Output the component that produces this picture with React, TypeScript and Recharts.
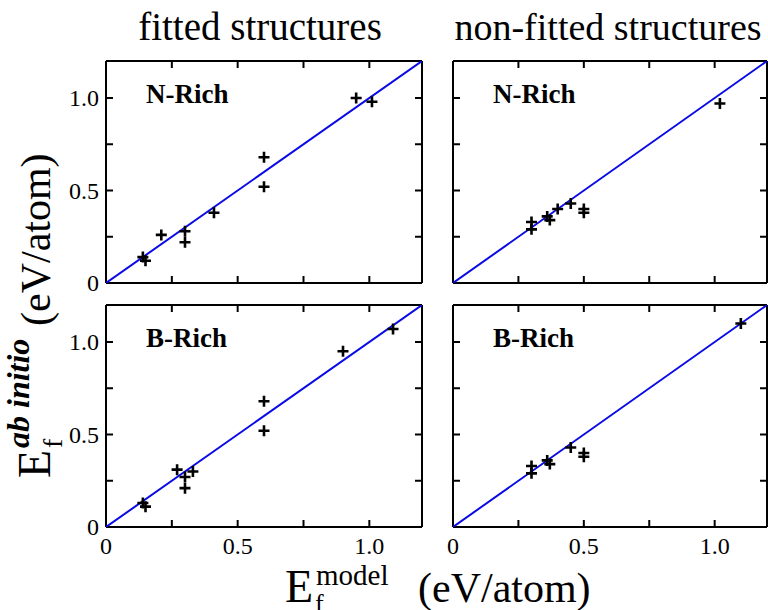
import { ScatterChart, Scatter, XAxis, YAxis } from 'recharts'

// values (eV/atom)
const fittedNModel = [0.14, 0.15, 0.21, 0.30, 0.30, 0.41, 0.60, 0.60, 0.95, 1.01]
const fittedNAbInitio = [0.14, 0.12, 0.26, 0.28, 0.22, 0.38, 0.68, 0.52, 1.0, 0.98]

const nonFittedNModel = [0.30, 0.30, 0.36, 0.37, 0.40, 0.45, 0.50, 0.50, 1.02]
const nonFittedNAbInitio = [0.33, 0.29, 0.36, 0.34, 0.40, 0.43, 0.40, 0.38, 0.97]

const fittedBModel = [0.14, 0.15, 0.27, 0.30, 0.30, 0.33, 0.60, 0.60, 0.90, 1.09]
const fittedBAbInitio = [0.13, 0.11, 0.31, 0.27, 0.21, 0.30, 0.68, 0.52, 0.95, 1.07]

const nonFittedBModel = [0.30, 0.30, 0.36, 0.37, 0.45, 0.50, 0.50, 1.10]
const nonFittedBAbInitio = [0.33, 0.29, 0.36, 0.34, 0.43, 0.40, 0.38, 1.10]

const diagonal = [0, 1.2]
const axisTicks = [0, 0.25, 0.5, 0.75, 1.0]
const labelTicks = [0, 0.5, 1.0]
const tickText = (v: number) => (v === 0 ? '0' : v.toFixed(1))

const SERIF = '"Times New Roman", Times, "Liberation Serif", "DejaVu Serif", "Noto Serif", serif'
const BLUE = '#0a0ae6'
const TICK = 7

// distance from the chart edge to the plot frame; axes take 1px of it
const OFF = { top: 10, right: 1, bottom: 40, left: 50 }
const MARGIN = { top: OFF.top - 1, right: OFF.right - 1, bottom: OFF.bottom - 1, left: OFF.left - 1 }
const PLOT_H = 222

const toPoints = (xs: number[], ys: number[]) => xs.map((x, i) => ({ x, y: ys[i] }))

const Plus = (props: any) => {
  const { cx, cy } = props
  if (cx == null || cy == null) return <g />
  return (
    <path
      d={`M${cx - 5.5},${cy}H${cx + 5.5}M${cx},${cy - 5.5}V${cy + 5.5}`}
      stroke="#000"
      strokeWidth={2.6}
      fill="none"
    />
  )
}

const inner = (v: number) => v > 0 && v < 1.2

const makeTick = (side: 'b' | 't' | 'l' | 'r', showLabel: boolean) => (props: any) => {
  const { x, y, payload } = props
  const v = payload.value as number
  const lbl = showLabel && labelTicks.includes(v)
  let line = null
  if (inner(v)) {
    if (side === 'b') line = <line x1={x} y1={y} x2={x} y2={y - TICK} />
    if (side === 't') line = <line x1={x} y1={y} x2={x} y2={y + TICK} />
    if (side === 'l') line = <line x1={x} y1={y} x2={x + TICK} y2={y} />
    if (side === 'r') line = <line x1={x} y1={y} x2={x - TICK} y2={y} />
  }
  return (
    <g stroke="#000" strokeWidth={2}>
      {line}
      {lbl && side === 'b' && (
        <text x={x} y={y + 27} textAnchor="middle" fontSize={24} fontFamily={SERIF} fill="#000" stroke="none">
          {tickText(v)}
        </text>
      )}
      {lbl && side === 'l' && (
        <text x={x - 7} y={y + 8} textAnchor="end" fontSize={24} fontFamily={SERIF} fill="#000" stroke="none">
          {tickText(v)}
        </text>
      )}
    </g>
  )
}

interface PanelProps {
  left: number
  top: number
  plotW: number
  model: number[]
  abInitio: number[]
  label: string
  xLabels: boolean
  yLabels: boolean
}

function Panel({ left, top, plotW, model, abInitio, label, xLabels, yLabels }: PanelProps) {
  const width = OFF.left + plotW + OFF.right
  const height = OFF.top + PLOT_H + OFF.bottom
  const axisLine = { stroke: '#000', strokeWidth: 2 }
  const common = {
    type: 'number' as const,
    domain: [0, 1.2],
    ticks: axisTicks,
    allowDataOverflow: true,
    tickSize: 0,
    tickMargin: 0,
    tickLine: false,
    interval: 0 as const,
    axisLine,
  }
  return (
    <div style={{ position: 'absolute', left: left - OFF.left, top: top - OFF.top }}>
      <ScatterChart width={width} height={height} margin={MARGIN}>
        <XAxis xAxisId="b" dataKey="x" orientation="bottom" height={1} {...common} tick={makeTick('b', xLabels)} />
        <XAxis xAxisId="t" dataKey="x" orientation="top" height={1} {...common} tick={makeTick('t', false)} />
        <YAxis yAxisId="l" dataKey="y" orientation="left" width={1} {...common} tick={makeTick('l', yLabels)} />
        <YAxis yAxisId="r" dataKey="y" orientation="right" width={1} {...common} tick={makeTick('r', false)} />
        <Scatter
          xAxisId="t"
          yAxisId="r"
          data={toPoints(diagonal, diagonal)}
          line={{ stroke: BLUE, strokeWidth: 2 }}
          shape={() => <g />}
          isAnimationActive={false}
        />
        <Scatter
          xAxisId="b"
          yAxisId="l"
          data={toPoints(model, abInitio)}
          shape={Plus}
          isAnimationActive={false}
        />
      </ScatterChart>
      <div
        style={{
          position: 'absolute',
          left: OFF.left + 40,
          top: OFF.top + 42 - 22,
          fontFamily: SERIF,
          fontWeight: 'bold',
          fontSize: 27,
          lineHeight: '27px',
          whiteSpace: 'nowrap',
        }}
      >
        {label}
      </div>
    </div>
  )
}

export default function App() {
  return (
    <div
      style={{
        position: 'absolute',
        left: 0,
        top: 0,
        width: 768,
        height: 610,
        overflow: 'hidden',
        background: '#fff',
      }}
    >
      <Panel left={106} top={61} plotW={316} model={fittedNModel} abInitio={fittedNAbInitio} label="N-Rich" xLabels={false} yLabels />
      <Panel left={453} top={61} plotW={314} model={nonFittedNModel} abInitio={nonFittedNAbInitio} label="N-Rich" xLabels={false} yLabels={false} />
      <Panel left={106} top={305} plotW={316} model={fittedBModel} abInitio={fittedBAbInitio} label="B-Rich" xLabels yLabels />
      <Panel left={453} top={305} plotW={314} model={nonFittedBModel} abInitio={nonFittedBAbInitio} label="B-Rich" xLabels yLabels={false} />

      <svg width={768} height={610} style={{ position: 'absolute', left: 0, top: 0, pointerEvents: 'none' }}>
        <g fontFamily={SERIF} fill="#000">
          <text x={260} y={40} fontSize={39} textAnchor="middle">fitted structures</text>
          <text x={608} y={40} fontSize={38} textAnchor="middle">non-fitted structures</text>

          {/* x axis title */}
          <text x={285} y={602} fontSize={46}>E</text>
          <text x={315} y={612} fontSize={26}>f</text>
          <text x={316} y={585} fontSize={29}>model</text>
          <text x={418} y={602} fontSize={42}>(eV/atom)</text>

          {/* y axis title */}
          <g transform="translate(50, 478) rotate(-90)">
            <text x={0} y={0} fontSize={46}>E</text>
            <text x={30} y={12} fontSize={28}>f</text>
            <text x={30} y={-21} fontSize={32} fontWeight="bold" fontStyle="italic">ab initio</text>
            <text x={152} y={0} fontSize={42}>(eV/atom)</text>
          </g>
        </g>
      </svg>
    </div>
  )
}
